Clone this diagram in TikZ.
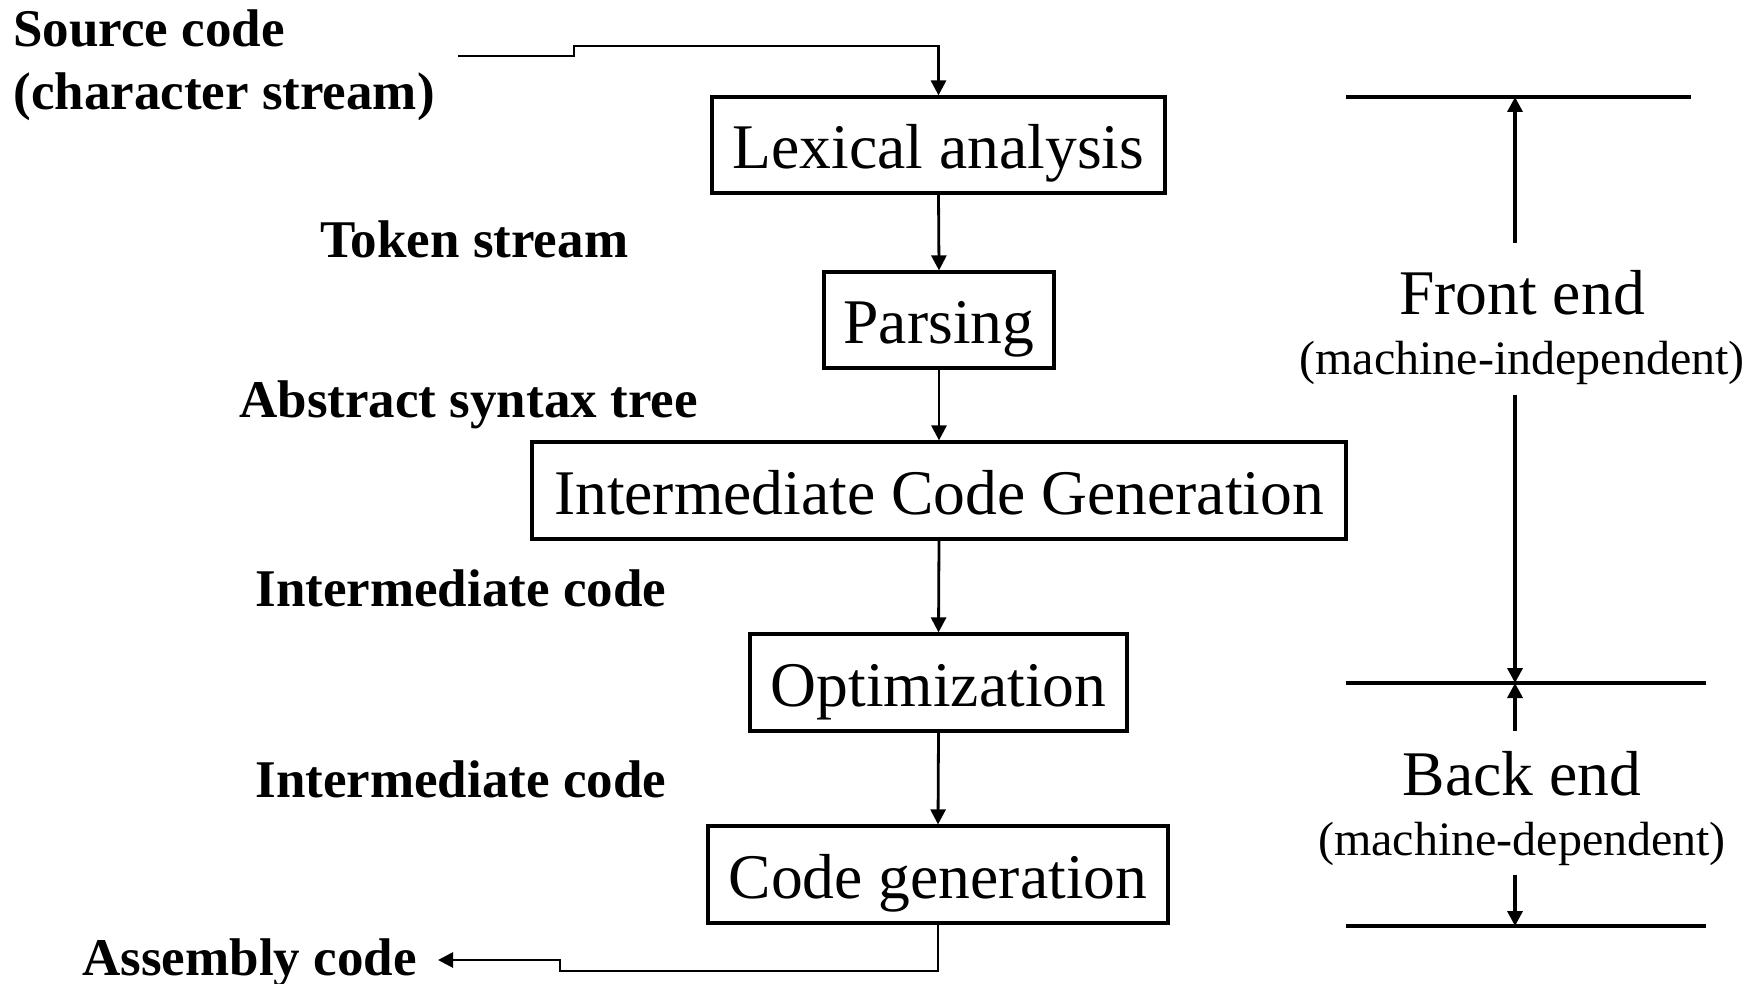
\documentclass[tikz,border=0pt]{standalone}
\usepackage{fontspec}
\setmainfont{Liberation Serif}
\usetikzlibrary{arrows.meta}
\begin{document}
\begin{tikzpicture}[x=0.5pt,y=-0.5pt,
  stage/.style={draw, line width=1.6pt, font=\fontsize{31.8}{36}\selectfont, inner sep=0pt, text height=23.6pt, text depth=0pt},
  lbl/.style={font=\bfseries\fontsize{26.5}{30}\selectfont, inner sep=0pt, anchor=mid west},
  side/.style={font=\fontsize{31.8}{36}\selectfont, inner sep=0pt},
  sub/.style={font=\fontsize{24}{28}\selectfont, inner sep=0pt},
  flow/.style={line width=1.4pt, -{Triangle[length=7.5pt,width=7.5pt]}},
  rule/.style={line width=1.7pt}]
\useasboundingbox (0,0) rectangle (1760,984);

% stages
\node[stage, minimum width=226.5pt, minimum height=48pt] (lex) at (938.5,145) {Lexical analysis};
\node[stage, minimum width=115pt, minimum height=48pt] (par) at (939,320) {Parsing};
\node[stage, minimum width=407pt, minimum height=48.5pt] (icg) at (939,490.5) {Intermediate Code Generation};
\node[stage, minimum width=188.5pt, minimum height=48.5pt] (opt) at (938.5,682.5) {Optimization};
\node[stage, minimum width=230pt, minimum height=48.5pt] (cg) at (938,874.5) {Code generation};

% labels
\node[lbl] (src) at (13,42) {Source code};
\node[lbl] (src2) at (13,105) {(character stream)};
\node[lbl] (tok) at (320,253) {Token stream};
\node[lbl] (ast) at (239,413) {Abstract syntax tree};
\node[lbl] (ic1) at (255,602) {Intermediate code};
\node[lbl] (ic2) at (255,793) {Intermediate code};
\node[lbl] (asm) at (82,971) {Assembly code};

% main flow
\coordinate (srcstart) at (458,56);
\draw[flow] (srcstart) -- (574,56) -- (574,46) -| (lex.north);
\draw[flow] (lex.south) -- (par.north);
\draw[flow] (par.south) -- (icg.north);
\draw[flow] (icg.south) -- (opt.north);
\draw[flow] (opt.south) -- (cg.north);
\coordinate (asmend) at (438,960);
\draw[flow] (cg.south) |- (560,971) -- (560,960) -- (asmend);

% right side
\node[side] (fe) at (1522,293) {Front end};
\node[sub] (fe2) at (1522,363) {(machine-independent)};
\node[side] (be) at (1522,774) {Back end};
\node[sub] (be2) at (1522,844) {(machine-dependent)};

\coordinate (t1) at (1346,97);  \coordinate (t2) at (1691,97);
\coordinate (m1) at (1346,683); \coordinate (m2) at (1706,683);
\coordinate (b1) at (1346,926); \coordinate (b2) at (1706,926);
\draw[rule] (t1) -- (t2);
\draw[rule] (m1) -- (m2);
\draw[rule] (b1) -- (b2);

\coordinate (fa) at (1515,243);
\coordinate (fb) at (1515,395);
\coordinate (ba) at (1515,731);
\coordinate (bb) at (1515,875);
\draw[flow, line width=1.7pt] (fa) -- (fa |- t1);
\draw[flow, line width=1.7pt] (fb) -- (fb |- m1);
\draw[flow, line width=1.7pt] (ba) -- (ba |- m1);
\draw[flow, line width=1.7pt] (bb) -- (bb |- b1);
\end{tikzpicture}
\end{document}
